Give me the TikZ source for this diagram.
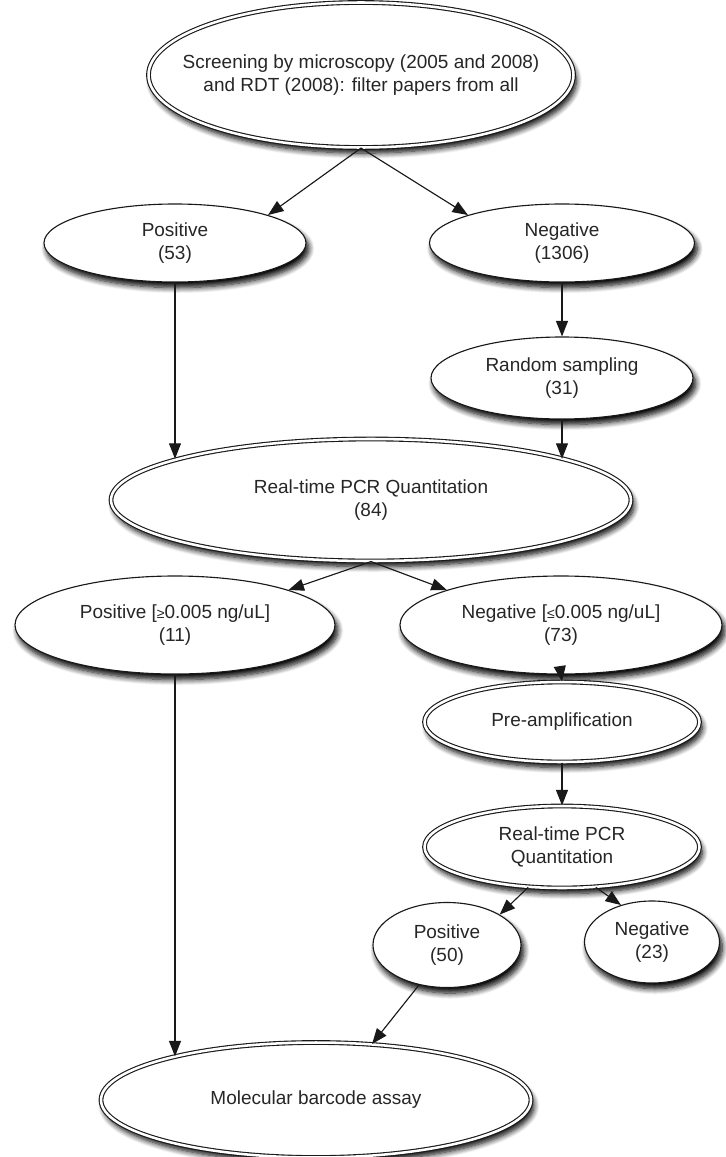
\documentclass[tikz,border=0pt]{standalone}
\usepackage{fontspec}
\setmainfont{Liberation Sans}
\usetikzlibrary{shapes.geometric, arrows, arrows.meta, shadows, shadows.blur, calc, positioning}
\newcommand{\smallrel}[1]{{\fontsize{10}{10}\selectfont #1}}
\tikzset{
  sz/.style 2 args={minimum width=#1*0.025cm, minimum height=#2*0.025cm},
  box/.style={ellipse, draw=black!90, line width=.8pt, fill=white, inner xsep=-6cm, inner ysep=-3cm,
    align=center, text=black!85, font=\fontsize{13.5}{16.5}\selectfont,
    blur shadow={shadow xshift=2pt, shadow yshift=-4pt, shadow blur radius=4pt, shadow blur steps=8, shadow opacity=100}},
  dbox/.style={box, double=white, double distance=1.8pt},
  arr/.style={-{Triangle[length=11pt,width=8.5pt]}, line width=.8pt, draw=black!90, fill=black!90},
}

\begin{document}
\begin{tikzpicture}[x=0.025cm, y=-0.025cm]
\useasboundingbox (0,0) rectangle (725,1157);

\node[dbox, sz={425}{145}] (screen) at (361,75) {Screening by microscopy (2005 and 2008)\\and RDT (2008): filter papers from all};
\node[box, sz={262}{78}] (posA) at (175,243) {Positive\\(53)};
\node[box, sz={265}{78}] (negA) at (562,243) {Negative\\(1306)};
\node[box, sz={262}{82}] (sample) at (562,378) {Random sampling\\(31)};
\node[dbox, sz={520}{122}] (pcrA) at (371,500) {Real-time PCR Quantitation\\(84)};
\node[box, sz={320}{98}] (posB) at (175,625) {Positive [\smallrel{≥}0.005 ng/uL]\\(11)};
\node[box, sz={322}{98}] (negB) at (561,625) {Negative [\smallrel{≤}0.005 ng/uL]\\(73)};
\node[dbox, sz={275}{80}] (preamp) at (562,722) {Pre-amplification};
\node[dbox, sz={275}{82}] (pcrB) at (562,847) {Real-time PCR\\Quantitation};
\node[box, sz={148}{85}] (posC) at (447,945) {Positive\\(50)};
\node[box, sz={135}{82}] (negC) at (652,942) {Negative\\(23)};
\node[dbox, sz={430}{115}] (barcode) at (316,1100) {Molecular barcode assay};

% connectors
\draw[arr] (screen.south) -- (posA.north east);
\draw[arr] (screen.south) -- (negA.north west);
\draw[arr] (negA.south) -- (sample.north);
\draw[arr] (posA.south) -- (posA.south |- pcrA.168);
\draw[arr] (sample.south) -- (sample.south |- pcrA.12);
\draw[arr] (pcrA.south) -- (posB.north east);
\draw[arr] (pcrA.south) -- (negB.north west);
\draw[arr] (negB.south) -- (preamp.north);
\draw[arr] (preamp.south) -- (pcrB.north);
\draw[arr] (pcrB.230) -- (posC.north east);
\draw[arr] (pcrB.310) -- (negC.130);
\draw[arr] (posB.south) -- (posB.south |- barcode.163);
\draw[arr] (posC.235) -- (barcode.45);
\end{tikzpicture}
\end{document}
